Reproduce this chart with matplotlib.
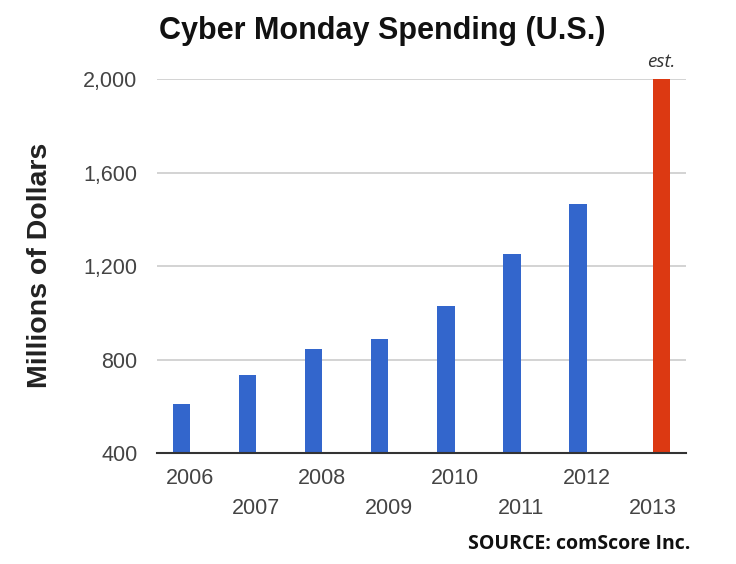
import matplotlib
matplotlib.use("Agg")
import matplotlib.pyplot as plt
import numpy as np

years = ["2006", "2007", "2008", "2009", "2010", "2011", "2012", "2013"]
actual = [608, 733, 846, 887, 1028, 1251, 1465, np.nan]
estimate = [np.nan, np.nan, np.nan, np.nan, np.nan, np.nan, np.nan, 2000]
yticks = [400, 800, 1200, 1600, 2000]

fig = plt.figure(figsize=(7.36, 5.64), dpi=100)
ax = fig.add_axes([157/736, 1-453/564, (686-157)/736, (453-79)/564])

x = np.arange(len(years))
w = 0.265
ax.bar(x - w/2, np.nan_to_num(actual, nan=400) - 400, width=w, bottom=400,
       color="#3366CC", zorder=3)
ax.bar(x + w/2, np.nan_to_num(estimate, nan=400) - 400, width=w, bottom=400,
       color="#DC3912", zorder=3)

ax.set_xlim(-0.5, len(years) - 0.5)
ax.set_ylim(400, 2000)
ax.set_yticks(yticks)
ax.set_yticklabels([f"{v:,}" for v in yticks], fontsize=15.5, color="#444444",
                   family="Liberation Sans")
ax.tick_params(axis="y", length=0, pad=14)
ax.grid(axis="y", color="#cccccc", linewidth=1.2, zorder=0)
for s in ["top", "right", "left"]:
    ax.spines[s].set_visible(False)
ax.spines["bottom"].set_color("#333333")
ax.spines["bottom"].set_linewidth(1.5)
ax.spines["bottom"].set_zorder(4)

ax.set_xticks(x)
ax.set_xticklabels(["" for _ in years])
ax.tick_params(axis="x", length=0)
for i, yr in enumerate(years):
    yoff = -26 if i % 2 == 0 else -56
    ax.annotate(yr, xy=(i, 400), xycoords="data", xytext=(0, yoff),
                textcoords="offset pixels", ha="center", va="center",
                fontsize=15.5, color="#444444", family="Liberation Sans")

ax.annotate("est.", xy=(x[-1] + w/2, 2000), xytext=(0, 17),
            textcoords="offset pixels", ha="center", va="center",
            fontsize=13.5, style="italic", color="#333333", family="Open Sans")

fig.text(382/736, 1-31/564, "Cyber Monday Spending (U.S.)", ha="center", va="center",
         fontsize=22, fontweight="bold", family="Liberation Sans", color="#111111")
fig.text(40/736, 1-265/564, "Millions of Dollars", ha="center", va="center",
         rotation=90, fontsize=20.5, fontweight="bold", family="Liberation Sans",
         color="#222222")
fig.text(690/736, 1-544/564, "SOURCE: comScore Inc.", ha="right", va="center",
         fontsize=14, fontweight="bold", family="Open Sans", color="#111111")

fig.savefig("out.png", dpi=100)
